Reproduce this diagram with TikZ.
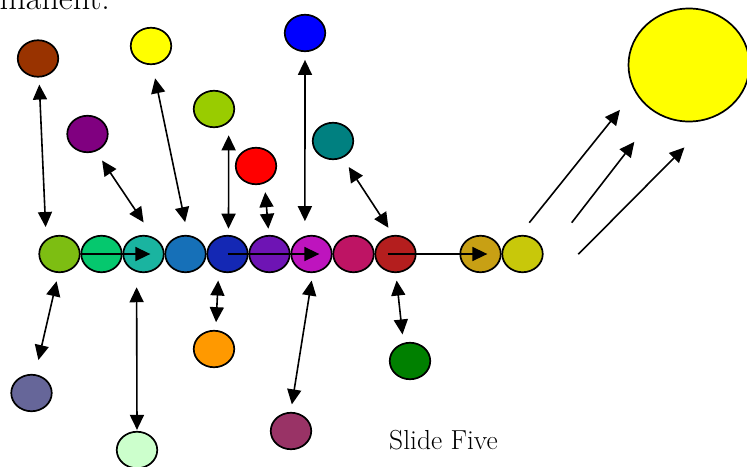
\documentclass[tikz,border=0pt]{standalone}
\usepackage{fontspec}
\usetikzlibrary{shapes.geometric,arrows.meta}
\definecolor{cA}{HTML}{7DBE12}
\definecolor{cB}{HTML}{05C86E}
\definecolor{cC}{HTML}{1AB4A0}
\definecolor{cD}{HTML}{1670B8}
\definecolor{cE}{HTML}{1428B4}
\definecolor{cF}{HTML}{6E14B4}
\definecolor{cG}{HTML}{BE14BE}
\definecolor{cH}{HTML}{BE1464}
\definecolor{cI}{HTML}{B41E1E}
\definecolor{cJ}{HTML}{C8A014}
\definecolor{cK}{HTML}{C8C80A}
\definecolor{brownc}{HTML}{993300}
\definecolor{yellowc}{HTML}{FFFF00}
\definecolor{purplec}{HTML}{800080}
\definecolor{gyc}{HTML}{99CC00}
\definecolor{bluec}{HTML}{0000FF}
\definecolor{redc}{HTML}{FF0000}
\definecolor{tealc}{HTML}{008080}
\definecolor{slatec}{HTML}{666699}
\definecolor{lgreenc}{HTML}{CCFFCC}
\definecolor{orangec}{HTML}{FF9900}
\definecolor{plumc}{HTML}{993366}
\definecolor{greenc}{HTML}{008000}
\begin{document}
\begin{tikzpicture}[x=1pt,y=-1pt,
  ball/.style={ellipse,draw=black,line width=1.7pt,minimum width=40.5pt,minimum height=36.5pt,inner sep=0pt},
  conn/.style={line width=1.6pt,-{Triangle[length=15pt,width=14pt]}},
  dconn/.style={line width=1.6pt,{Triangle[length=15pt,width=14pt]}-{Triangle[length=15pt,width=14pt]}},
  lbl/.style={inner sep=0pt,font=\fontsize{27.5}{32}\selectfont}]
\useasboundingbox (0,0) rectangle (747,466);
% title fragment (cut off at the top edge, as in the reference)
\node[inner sep=0pt,anchor=base east,font=\fontsize{34}{40}\selectfont] (title) at (110,9.3) {manent.};
% row
\node[ball,fill=cA] (c1) at (59.5,254) {};
\node[ball,fill=cB] (c2) at (101.5,254) {};
\node[ball,fill=cC] (c3) at (143.5,254) {};
\node[ball,fill=cD] (c4) at (185.5,254) {};
\node[ball,fill=cE] (c5) at (227.5,254) {};
\node[ball,fill=cF] (c6) at (269.5,254) {};
\node[ball,fill=cG] (c7) at (311.5,254) {};
\node[ball,fill=cH] (c8) at (353.5,254) {};
\node[ball,fill=cI] (c9) at (395.5,254) {};
\node[ball,fill=cJ] (c10) at (480.5,254) {};
\node[ball,fill=cK] (c11) at (522.5,254) {};
% top satellites
\node[ball,fill=brownc] (brown) at (38,58.5) {};
\node[ball,fill=yellowc] (yellow) at (151,46) {};
\node[ball,fill=purplec] (purple) at (87.5,134) {};
\node[ball,fill=gyc] (gy) at (214,109) {};
\node[ball,fill=bluec] (blue) at (305,33) {};
\node[ball,fill=redc] (red) at (256,166) {};
\node[ball,fill=tealc] (teal) at (333,141) {};
% bottom satellites
\node[ball,fill=slatec] (slate) at (31.5,393) {};
\node[ball,fill=lgreenc] (lgreen) at (137,450) {};
\node[ball,fill=orangec] (orange) at (214,349) {};
\node[ball,fill=plumc] (plum) at (291,431) {};
\node[ball,fill=greenc] (green) at (410,361) {};
% sun
\node[ellipse,draw=black,line width=1.7pt,fill=yellowc,minimum width=121pt,minimum height=113pt,inner sep=0pt] (sun) at (689,65) {};
% label
\node[lbl,anchor=base west] (slide) at (389,449.3) {Slide Five};
% row arrows
\draw[conn,shorten >=14.25pt] (c1.east) -- (c3.east);
\draw[conn,shorten >=13.25pt] (c5.center) -- (c7.east);
\draw[conn,shorten <=13.25pt,shorten >=14.25pt] (c9.west) -- (c10.east);
% top double arrows
\draw[dconn,shorten <=7pt,shorten >=12.2pt] (brown.-87) -- (c1.132);
\draw[dconn,shorten <=10.9pt,shorten >=17.9pt] (purple.-64) -- (c3.59);
\draw[dconn,shorten <=13.5pt,shorten >=13.1pt] (yellow.-86) -- (c4.83);
\draw[dconn,shorten <=12.6pt,shorten >=6.2pt] (gy.-43) -- (c5.87.5);
\draw[dconn,shorten <=8.75pt,shorten >=6.2pt] (red.-64) -- (c6.92);
\draw[dconn,shorten <=7.8pt,shorten >=14.7pt] (blue.south) -- (c7.110);
\draw[dconn,shorten <=10.9pt,shorten >=8.7pt] (teal.-60.5) -- (c9.97.6);
% bottom double arrows
\draw[dconn,shorten <=8.4pt,shorten >=14.5pt] (c1.-93) -- (slate.79);
\draw[dconn,shorten <=15.2pt,shorten >=1pt] (c3.-111) -- (lgreen.north);
\draw[dconn,shorten <=9.2pt,shorten >=7.8pt] (c5.-117) -- (orange.85);
\draw[dconn,shorten <=7.6pt,shorten >=7.6pt] (c7.-86) -- (plum.91.5);
\draw[dconn,shorten <=7.5pt,shorten >=8.45pt] (c9.-89) -- (green.110);
% sun arrows
\coordinate (s1) at (529.3,222.7);
\coordinate (s2) at (571.7,222.7);
\coordinate (s3) at (578.3,254.3);
\draw[conn,shorten >=23.5pt] (s1) -- (sun.-154.1);
\draw[conn,shorten >=35.8pt] (s2) -- (sun.-124.7);
\draw[conn,shorten >=42.6pt] (s3) -- (sun.-64.3);
\end{tikzpicture}
\end{document}
